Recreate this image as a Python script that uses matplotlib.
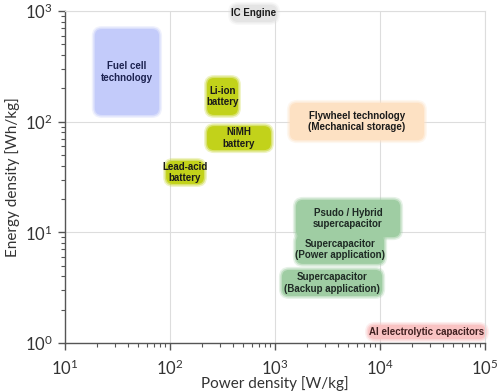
import matplotlib.pyplot as plt
from matplotlib.patches import FancyBboxPatch
from matplotlib.transforms import IdentityTransform

plt.rcParams['font.family'] = ['Lato', 'DejaVu Sans']
plt.rcParams['mathtext.fontset'] = 'custom'
plt.rcParams['mathtext.rm'] = 'Lato'

# technology regions: (label, power min, power max, energy min, energy max)
labels = ["Fuel cell\ntechnology", "Li-ion\nbattery", "NiMH\nbattery", "Lead-acid\nbattery",
          "IC Engine", "Flywheel technology\n(Mechanical storage)", "Psudo / Hybrid\nsupercapacitor",
          "Supercapacitor\n(Power application)", "Supercapacitor\n(Backup application)",
          "Al electrolytic capacitors"]
p_min = [18, 211, 211, 86, 357, 1300, 1480, 1480, 1090, 7200]
p_max = [84, 474, 977, 225, 1117, 28000, 16600, 11700, 11200, 109000]
e_min = [108, 108, 52, 25.7, 748, 64, 8.5, 4.87, 2.5, 1.02]
e_max = [731, 264, 97, 47, 1206, 157, 20.9, 10.1, 4.87, 1.55]
colors = ["#c3cbfa", "#c2d21a", "#c2d21a", "#c2d21a", "#e4e4e4", "#fde1c3",
          "#9fcda3", "#9fcda3", "#9fcda3", "#f9c3c3"]
text_colors = ["#1c2250", "#1a1a1a", "#1a1a1a", "#1a1a1a", "#1a1a1a", "#1a1a1a",
               "#1e2a24", "#1e2a24", "#1e2a24", "#402020"]

fig = plt.figure(figsize=(5, 3.92), dpi=100)
ax = fig.add_axes([0.13, 0.125, 0.84, 0.847])
ax.set_xscale("log")
ax.set_yscale("log")
ax.set_xlim(10, 1e5)
ax.set_ylim(1, 1e3)

ax.grid(True, which="major", color="#dddddd", lw=0.8)
ax.set_axisbelow(True)
for s in ["top", "right"]:
    ax.spines[s].set_color("#dddddd")
    ax.spines[s].set_linewidth(0.8)
for s in ["left", "bottom"]:
    ax.spines[s].set_color("#555555")
    ax.spines[s].set_linewidth(1.0)
ax.tick_params(which="major", length=5, width=1, color="#555555", labelsize=12, labelcolor="#333333", pad=4)
ax.tick_params(axis="x", which="major", pad=6)
ax.tick_params(which="minor", length=3, width=0.8, color="#555555")

ax.set_xlabel("Power density [W/kg]", fontsize=11, color="#333333", labelpad=-1)
ax.set_ylabel("Energy density [Wh/kg]", fontsize=11, color="#333333", labelpad=3)

for i in range(len(labels)):
    (x0, y0) = ax.transData.transform((p_min[i], e_min[i]))
    (x1, y1) = ax.transData.transform((p_max[i], e_max[i]))
    w = x1 - x0
    h = y1 - y0
    # soft halo then solid box
    for pad, alpha in [(3, 0.25), (1.5, 0.5), (0, 1.0)]:
        box = FancyBboxPatch((x0 + 3 - pad, y0 + 3 - pad), w - 6 + 2 * pad, h - 6 + 2 * pad,
                             boxstyle="round,pad=0,rounding_size=%g" % (7 + pad),
                             transform=IdentityTransform(), facecolor=colors[i],
                             edgecolor="none", alpha=alpha, clip_on=False, zorder=2)
        ax.add_patch(box)
    ax.text((x0 + x1) / 2, (y0 + y1) / 2, labels[i], transform=IdentityTransform(),
            ha="center", va="center", fontsize=7, fontweight="bold",
            family="Liberation Sans", color=text_colors[i], linespacing=1.15, zorder=3)

fig.savefig("out.png", dpi=100)
